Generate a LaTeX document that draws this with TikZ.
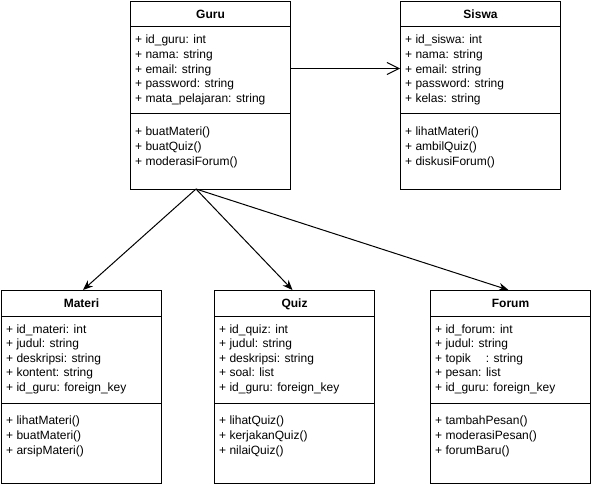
\documentclass[tikz,border=0pt]{standalone}
\usepackage{fontspec}
\setmainfont{Liberation Sans}
\usetikzlibrary{arrows.meta,calc}

\tikzset{
  classbox/.style={draw=black, line width=1pt, fill=white, minimum width=160pt,
    inner sep=0pt, anchor=north west, rectangle},
  classtitle/.style={font=\fontsize{12}{14}\selectfont\bfseries, anchor=base, inner sep=0pt},
  member/.style={font=\fontsize{12}{14}\selectfont, anchor=base west, inner sep=0pt},
  sep/.style={draw=black, line width=1pt},
  assoc/.style={draw=black, line width=1pt, -{Stealth[length=10pt,width=8pt]}},
  openassoc/.style={draw=black, line width=1pt, -{Straight Barb[length=12pt,width=12pt,line width=1pt]}},
}

% \umlclass{name}{x}{y}{height}{title}{attributes}{operations}
\newcommand{\umlclass}[7]{%
  \node[classbox, minimum height=#4pt] (#1) at (#2,#3) {};
  \node[classtitle] (#1-title) at ($(#1.north)+(0,17.8)$) {#5};
  \draw[sep] ($(#1.north west)+(0,26)$) -- ($(#1.north east)+(0,26)$);
  \draw[sep] ($(#1.north west)+(0,113)$) -- ($(#1.north east)+(0,113)$);
  \foreach \txt [count=\i] in {#6}
    \node[member] (#1-attr\i) at ($(#1.north west)+(5,43+14.6*\i-14.6)$) {\txt};
  \foreach \txt [count=\i] in {#7}
    \node[member] (#1-op\i) at ($(#1.north west)+(5,134.5+15*\i-15)$) {\txt};
}

\begin{document}
\begin{tikzpicture}[x=1pt, y=-1pt]
  \useasboundingbox[fill=white] (0,0) rectangle (592,484);

  \umlclass{guru}{130}{1}{188}{Guru}
    {+ id\_guru: int, + nama: string, + email: string, + password: string, + mata\_pelajaran: string}
    {+ buatMateri(), + buatQuiz(), + moderasiForum()}

  \umlclass{siswa}{400}{1}{188}{Siswa}
    {+ id\_siswa: int, + nama: string, + email: string, + password: string, + kelas: string}
    {+ lihatMateri(), + ambilQuiz(), + diskusiForum()}

  \umlclass{materi}{1}{290}{193}{Materi}
    {+ id\_materi: int, + judul: string, + deskripsi: string, + kontent: string, + id\_guru: foreign\_key}
    {+ lihatMateri(), + buatMateri(), + arsipMateri()}

  \umlclass{quiz}{214}{290}{193}{Quiz}
    {+ id\_quiz: int, + judul: string, + deskripsi: string, + soal: list, + id\_guru: foreign\_key}
    {+ lihatQuiz(), + kerjakanQuiz(), + nilaiQuiz()}

  \umlclass{forum}{430}{290}{193}{Forum}
    {+ id\_forum: int, + judul: string, + topik\hspace{15pt}: string, + pesan: list, + id\_guru: foreign\_key}
    {+ tambahPesan(), + moderasiPesan(), + forumBaru()}

  % connectors
  \coordinate (guru-out) at ($(guru.south west)+(66,-1)$);
  \coordinate (guru-right) at ($(guru.north east)+(0,67.5)$);
  \draw[openassoc] (guru-right) -- (guru-right -| siswa.west);
  \draw[assoc] (guru-out) -- ($(materi.north)+(1.5,0)$);
  \draw[assoc] (guru-out) -- ($(quiz.north)+(-2,0)$);
  \draw[assoc] (guru-out) -- ($(forum.north)+(-2,0)$);
\end{tikzpicture}
\end{document}
